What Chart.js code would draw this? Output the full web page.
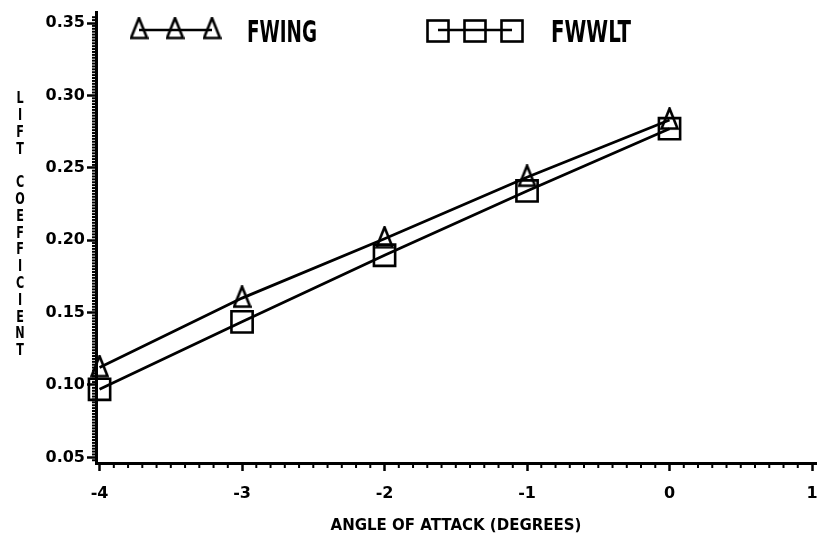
<!DOCTYPE html>
<html>
<head>
<meta charset="utf-8">
<script src="https://cdn.jsdelivr.net/npm/chart.js@4"></script>
<style>
  html, body { margin: 0; padding: 0; background: #fff; }
  #wrap { width: 820px; height: 551px; }
</style>
</head>
<body>
<div id="wrap"><canvas id="liftChart" width="820" height="551"></canvas></div>
<script>
// angle of attack (degrees)
const angles = [-4, -3, -2, -1, 0];
// lift coefficient
const fwing = [0.112, 0.160, 0.201, 0.2435, 0.283];
const fwwlt = [0.097, 0.1436, 0.1896, 0.234, 0.277];
const xTicks = [-4, -3, -2, -1, 0, 1];
const yTicks = [0.05, 0.10, 0.15, 0.20, 0.25, 0.30, 0.35];

const FONT = "'DejaVu Sans', sans-serif";

function pts(ys) {
  return angles.map((a, i) => ({ x: a, y: ys[i] }));
}

// narrow hollow triangle marker, apex a bit further from the centre than the base
const tri = document.createElement('canvas');
tri.width = 19;
tri.height = 26;
(function () {
  const c = tri.getContext('2d');
  c.strokeStyle = '#000';
  c.lineWidth = 2.6;
  c.lineJoin = 'miter';
  c.beginPath();
  c.moveTo(9.5, 1.5);
  c.lineTo(17.5, 21.5);
  c.lineTo(1.5, 21.5);
  c.closePath();
  c.stroke();
})();

// minor ticks, stacked y title and the legend are drawn by hand
const extras = {
  id: 'extras',
  afterDraw(chart) {
    const ctx = chart.ctx;
    const xs = chart.scales.x, ys = chart.scales.y;
    ctx.save();
    ctx.strokeStyle = '#000';
    ctx.fillStyle = '#000';
    ctx.lineWidth = 2;

    // minor ticks along x (every 0.1)
    for (let i = 1; i < 50; i++) {
      if (i % 10 === 0) continue;
      const px = xs.getPixelForValue(-4 + i * 0.1);
      ctx.beginPath();
      ctx.moveTo(px, ys.bottom);
      ctx.lineTo(px, ys.bottom + 5);
      ctx.stroke();
    }
    // minor ticks along y (every 0.002)
    for (let i = -2; i < 153; i++) {
      if (i % 25 === 0) continue;
      const py = ys.getPixelForValue(0.05 + i * 0.002);
      if (py > ys.bottom || py < ys.top) continue;
      ctx.beginPath();
      ctx.moveTo(xs.left - 4, py);
      ctx.lineTo(xs.left, py);
      ctx.stroke();
    }

    // y title, one letter under the other
    const title = 'LIFT COEFFICIENT';
    ctx.font = 'bold 16px ' + FONT;
    ctx.textAlign = 'center';
    ctx.textBaseline = 'middle';
    for (let i = 0; i < title.length; i++) {
      const c = title[i];
      if (c === ' ') continue;
      ctx.save();
      ctx.translate(20, 99 + i * 16.8);
      ctx.scale(0.7, 1);
      ctx.fillText(c, 0, 0);
      ctx.restore();
    }

    // legend
    const legendItems = [
      { style: 'tri', xs: [139, 175, 212], ly: 29.5, label: 'FWING', tx: 247, tw: 70 },
      { style: 'rect', xs: [438, 475, 512], ly: 31, label: 'FWWLT', tx: 551, tw: 80 }
    ];
    legendItems.forEach(it => {
      ctx.lineWidth = 2.6;
      ctx.beginPath();
      ctx.moveTo(it.xs[0], 30);
      ctx.lineTo(it.xs[it.xs.length - 1], 30);
      ctx.stroke();
      it.xs.forEach(x => {
        if (it.style === 'tri') {
          ctx.drawImage(tri, x - tri.width / 2, it.ly - tri.height / 2);
        } else {
          ctx.lineWidth = 2.6;
          ctx.strokeRect(x - 10.5, it.ly - 10.5, 21, 21);
        }
      });
      ctx.fillStyle = '#000';
      ctx.font = 'bold 30px ' + FONT;
      ctx.textAlign = 'left';
      ctx.textBaseline = 'alphabetic';
      const w = ctx.measureText(it.label).width;
      ctx.save();
      ctx.translate(it.tx, 42);
      ctx.scale(it.tw / w, 1);
      ctx.fillText(it.label, 0, 0);
      ctx.restore();
    });
    ctx.restore();
  }
};

new Chart(document.getElementById('liftChart'), {
  type: 'scatter',
  data: {
    datasets: [{
      label: 'FWING',
      data: pts(fwing),
      showLine: true,
      clip: false,
      borderColor: '#000',
      backgroundColor: 'rgba(0,0,0,0)',
      borderWidth: 2.8,
      pointStyle: tri,
      pointRadius: 12,
      pointBorderColor: '#000',
      pointBackgroundColor: 'rgba(0,0,0,0)'
    }, {
      label: 'FWWLT',
      data: pts(fwwlt),
      showLine: true,
      clip: false,
      borderColor: '#000',
      backgroundColor: 'rgba(0,0,0,0)',
      borderWidth: 2.8,
      pointStyle: 'rect',
      pointRadius: 15,
      pointBorderWidth: 2.6,
      pointBorderColor: '#000',
      pointBackgroundColor: 'rgba(0,0,0,0)'
    }]
  },
  options: {
    responsive: false,
    animation: false,
    events: [],
    layout: { autoPadding: false, padding: { left: 0, right: 4, top: 12, bottom: 0 } },
    plugins: {
      legend: { display: false },
      tooltip: { enabled: false }
    },
    scales: {
      x: {
        type: 'linear',
        min: -4.025,
        max: 1.028,
        afterBuildTicks: s => { s.ticks = xTicks.map(v => ({ value: v })); },
        afterFit: s => { s.height = 88; s.paddingLeft = 0; s.paddingRight = 0; },
        border: { display: true, color: '#000', width: 3 },
        grid: { drawOnChartArea: false, drawTicks: true, tickLength: 8, tickWidth: 2.5, tickColor: '#000' },
        ticks: {
          color: '#000',
          padding: 13,
          maxRotation: 0,
          autoSkip: false,
          font: { family: FONT, weight: 'bold', size: 16 },
          callback: v => String(v)
        },
        title: {
          display: true,
          text: 'ANGLE OF ATTACK (DEGREES)',
          color: '#000',
          font: { family: FONT, weight: 'bold', size: 15 },
          padding: { top: 0, bottom: 16 }
        }
      },
      y: {
        type: 'linear',
        min: 0.0461,
        max: 0.3576,
        afterBuildTicks: s => { s.ticks = yTicks.map(v => ({ value: v })); },
        afterFit: s => { s.width = 96; s.paddingTop = 0; s.paddingBottom = 0; },
        border: { display: true, color: '#000', width: 3 },
        grid: { drawOnChartArea: false, drawTicks: true, tickLength: 9, tickWidth: 2.5, tickColor: '#000' },
        ticks: {
          color: '#000',
          padding: 2,
          autoSkip: false,
          font: { family: FONT, weight: 'bold', size: 16 },
          callback: v => v.toFixed(2)
        }
      }
    }
  },
  plugins: [extras]
});
</script>
</body>
</html>
